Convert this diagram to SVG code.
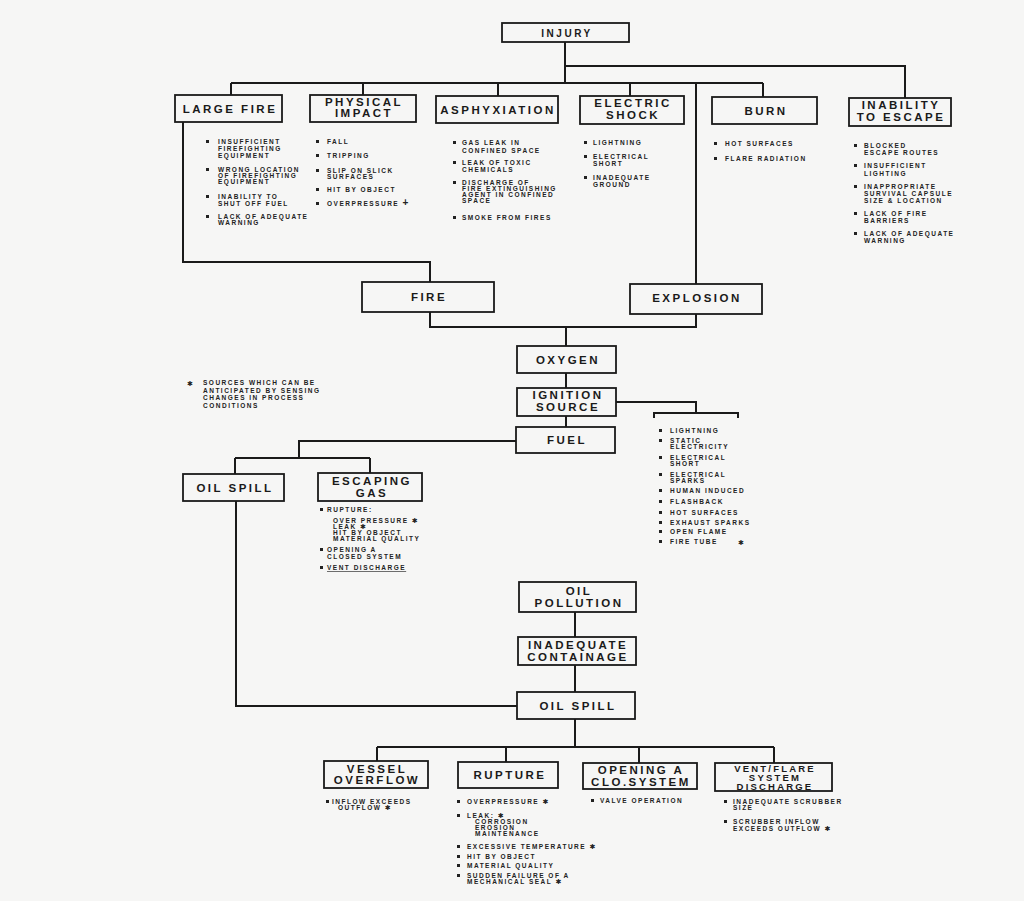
<svg xmlns="http://www.w3.org/2000/svg" width="1024" height="901" viewBox="0 0 1024 901">
<style>
.bg{fill:#f6f6f5}
.box{fill:none;stroke:#1a1a1a;stroke-width:1.8}
.ln{fill:none;stroke:#1a1a1a;stroke-width:2}
.lb{font-family:"Liberation Sans",Arial,sans-serif;font-weight:bold;font-size:11.5px;letter-spacing:2.5px;fill:#1a1a1a;text-anchor:middle}
.v{font-size:9.5px;letter-spacing:2.2px}
.s{font-family:"Liberation Sans",Arial,sans-serif;font-weight:bold;font-size:6.5px;letter-spacing:1.5px;fill:#222}
.m{font-family:"DejaVu Sans",sans-serif;font-size:7px;fill:#222}
.b{fill:#222}
</style>
<rect class="bg" x="0" y="0" width="1024" height="901"/>

<g id="connectors">
<path class="ln" d="M565 42V83M565 66H905V98M231 83H763M231 83V95M363 83V95M498 83V96M630 83V96M763 83V97M696 83V284"/>
<path class="ln" d="M183 122V262H430V282M430 312V327H696V314M566 327V346M566 373V388M566 416V427"/>
<path class="ln" d="M616 402H696V413M654 418V413H738V418"/>
<path class="ln" d="M516 441H299V458M235 458H370M235 458V474M370 458V473M236 501V706H517"/>
<path class="ln" d="M575 612V637M575 665V692M575 719V747M377 747H774M377 747V761M506 747V762M639 747V763M774 747V763"/>
</g>

<g id="injury"><rect class="box" x="502" y="23" width="127" height="19"/><text class="lb" x="567" y="37" style="font-size:10px">INJURY</text></g>

<g id="large-fire"><rect class="box" x="175" y="95" width="107" height="27"/><text class="lb" x="230" y="113">LARGE FIRE</text>
<rect class="b" x="206" y="140" width="3" height="3"/><rect class="b" x="206" y="168" width="3" height="3"/><rect class="b" x="206" y="195" width="3" height="3"/><rect class="b" x="206" y="215" width="3" height="3"/>
<text class="s" x="218" y="144">INSUFFICIENT</text><text class="s" x="218" y="151">FIREFIGHTING</text><text class="s" x="218" y="158">EQUIPMENT</text>
<text class="s" x="218" y="172">WRONG LOCATION</text><text class="s" x="218" y="178">OF FIREFIGHTING</text><text class="s" x="218" y="184">EQUIPMENT</text>
<text class="s" x="218" y="199">INABILITY TO</text><text class="s" x="218" y="206">SHUT OFF FUEL</text>
<text class="s" x="218" y="219">LACK OF ADEQUATE</text><text class="s" x="218" y="225">WARNING</text></g>

<g id="physical-impact"><rect class="box" x="310" y="95" width="106" height="27"/><text class="lb" x="364" y="106">PHYSICAL</text><text class="lb" x="364" y="117">IMPACT</text>
<rect class="b" x="316" y="140" width="3" height="3"/><rect class="b" x="316" y="154" width="3" height="3"/><rect class="b" x="316" y="169" width="3" height="3"/><rect class="b" x="316" y="188" width="3" height="3"/><rect class="b" x="316" y="202" width="3" height="3"/>
<text class="s" x="327" y="144">FALL</text><text class="s" x="327" y="158">TRIPPING</text><text class="s" x="327" y="173">SLIP ON SLICK</text><text class="s" x="327" y="179">SURFACES</text><text class="s" x="327" y="192">HIT BY OBJECT</text><text class="s" x="327" y="206">OVERPRESSURE <tspan style="font-size:10px">+</tspan></text></g>

<g id="asphyxiation"><rect class="box" x="436" y="96" width="122" height="27"/><text class="lb" x="498" y="114">ASPHYXIATION</text>
<rect class="b" x="453" y="141" width="3" height="3"/><rect class="b" x="453" y="161" width="3" height="3"/><rect class="b" x="453" y="181" width="3" height="3"/><rect class="b" x="453" y="216" width="3" height="3"/>
<text class="s" x="462" y="145">GAS LEAK IN</text><text class="s" x="462" y="153">CONFINED SPACE</text><text class="s" x="462" y="165">LEAK OF TOXIC</text><text class="s" x="462" y="172">CHEMICALS</text>
<text class="s" x="462" y="185">DISCHARGE OF</text><text class="s" x="462" y="191">FIRE EXTINGUISHING</text><text class="s" x="462" y="197">AGENT IN CONFINED</text><text class="s" x="462" y="203">SPACE</text><text class="s" x="462" y="220">SMOKE FROM FIRES</text></g>

<g id="electric-shock"><rect class="box" x="580" y="96" width="104" height="28"/><text class="lb" x="633" y="107">ELECTRIC</text><text class="lb" x="633" y="119">SHOCK</text>
<rect class="b" x="584" y="141" width="3" height="3"/><rect class="b" x="584" y="155" width="3" height="3"/><rect class="b" x="584" y="176" width="3" height="3"/>
<text class="s" x="593" y="145">LIGHTNING</text><text class="s" x="593" y="159">ELECTRICAL</text><text class="s" x="593" y="166">SHORT</text><text class="s" x="593" y="180">INADEQUATE</text><text class="s" x="593" y="187">GROUND</text></g>

<g id="burn"><rect class="box" x="712" y="97" width="105" height="27"/><text class="lb" x="766" y="115">BURN</text>
<rect class="b" x="714" y="142" width="3" height="3"/><rect class="b" x="714" y="157" width="3" height="3"/>
<text class="s" x="725" y="146">HOT SURFACES</text><text class="s" x="725" y="161">FLARE RADIATION</text></g>

<g id="inability-to-escape"><rect class="box" x="849" y="98" width="102" height="28"/><text class="lb" x="901" y="109">INABILITY</text><text class="lb" x="901" y="121">TO ESCAPE</text>
<rect class="b" x="854" y="144" width="3" height="3"/><rect class="b" x="854" y="164" width="3" height="3"/><rect class="b" x="854" y="185" width="3" height="3"/><rect class="b" x="854" y="212" width="3" height="3"/><rect class="b" x="854" y="232" width="3" height="3"/>
<text class="s" x="864" y="148">BLOCKED</text><text class="s" x="864" y="155">ESCAPE ROUTES</text><text class="s" x="864" y="168">INSUFFICIENT</text><text class="s" x="864" y="176">LIGHTING</text>
<text class="s" x="864" y="189">INAPPROPRIATE</text><text class="s" x="864" y="196">SURVIVAL CAPSULE</text><text class="s" x="864" y="203">SIZE &amp; LOCATION</text>
<text class="s" x="864" y="216">LACK OF FIRE</text><text class="s" x="864" y="223">BARRIERS</text><text class="s" x="864" y="236">LACK OF ADEQUATE</text><text class="s" x="864" y="243">WARNING</text></g>

<g id="fire"><rect class="box" x="362" y="282" width="132" height="30"/><text class="lb" x="429" y="301">FIRE</text></g>
<g id="explosion"><rect class="box" x="630" y="284" width="132" height="30"/><text class="lb" x="697" y="302">EXPLOSION</text></g>
<g id="oxygen"><rect class="box" x="517" y="346" width="99" height="27"/><text class="lb" x="568" y="364">OXYGEN</text></g>
<g id="ignition-source"><rect class="box" x="517" y="388" width="99" height="28"/><text class="lb" x="568" y="399">IGNITION</text><text class="lb" x="568" y="411">SOURCE</text>
<rect class="b" x="659" y="429" width="3" height="3"/><rect class="b" x="659" y="439" width="3" height="3"/><rect class="b" x="659" y="456" width="3" height="3"/><rect class="b" x="659" y="473" width="3" height="3"/><rect class="b" x="659" y="489" width="3" height="3"/><rect class="b" x="659" y="500" width="3" height="3"/><rect class="b" x="659" y="511" width="3" height="3"/><rect class="b" x="659" y="521" width="3" height="3"/><rect class="b" x="659" y="530" width="3" height="3"/><rect class="b" x="659" y="540" width="3" height="3"/>
<text class="s" x="670" y="433">LIGHTNING</text><text class="s" x="670" y="443">STATIC</text><text class="s" x="670" y="449">ELECTRICITY</text><text class="s" x="670" y="460">ELECTRICAL</text><text class="s" x="670" y="466">SHORT</text>
<text class="s" x="670" y="477">ELECTRICAL</text><text class="s" x="670" y="483">SPARKS</text><text class="s" x="670" y="493">HUMAN INDUCED</text><text class="s" x="670" y="504">FLASHBACK</text><text class="s" x="670" y="515">HOT SURFACES</text>
<text class="s" x="670" y="525">EXHAUST SPARKS</text><text class="s" x="670" y="534">OPEN FLAME</text><text class="s" x="670" y="544">FIRE TUBE</text><text class="m" x="738" y="545">✱</text></g>
<g id="fuel"><rect class="box" x="516" y="427" width="99" height="26"/><text class="lb" x="567" y="444">FUEL</text></g>

<g id="note"><text class="m" x="187" y="386">✱</text>
<text class="s" x="203" y="385">SOURCES WHICH CAN BE</text><text class="s" x="203" y="393">ANTICIPATED BY SENSING</text><text class="s" x="203" y="400">CHANGES IN PROCESS</text><text class="s" x="203" y="408">CONDITIONS</text></g>

<g id="oil-spill-1"><rect class="box" x="183" y="474" width="101" height="27"/><text class="lb" x="235" y="492">OIL SPILL</text></g>
<g id="escaping-gas"><rect class="box" x="318" y="473" width="104" height="28"/><text class="lb" x="372" y="485">ESCAPING</text><text class="lb" x="372" y="497">GAS</text>
<rect class="b" x="320" y="508" width="3" height="3"/><rect class="b" x="320" y="548" width="3" height="3"/><rect class="b" x="320" y="566" width="3" height="3"/>
<text class="s" x="327" y="512">RUPTURE:</text><text class="s" x="333" y="523">OVER PRESSURE <tspan class="m">✱</tspan></text><text class="s" x="333" y="529">LEAK <tspan class="m">✱</tspan></text><text class="s" x="333" y="535">HIT BY OBJECT</text><text class="s" x="333" y="541">MATERIAL QUALITY</text>
<text class="s" x="327" y="552">OPENING A</text><text class="s" x="327" y="559">CLOSED SYSTEM</text><text class="s" x="327" y="570" text-decoration="underline">VENT DISCHARGE</text></g>

<g id="oil-pollution"><rect class="box" x="519" y="582" width="117" height="30"/><text class="lb" x="579" y="595">OIL</text><text class="lb" x="579" y="607">POLLUTION</text></g>
<g id="inadequate-containage"><rect class="box" x="518" y="637" width="118" height="28"/><text class="lb" x="578" y="649">INADEQUATE</text><text class="lb" x="578" y="661">CONTAINAGE</text></g>
<g id="oil-spill-2"><rect class="box" x="517" y="692" width="118" height="27"/><text class="lb" x="578" y="710">OIL SPILL</text></g>

<g id="vessel-overflow"><rect class="box" x="324" y="761" width="104" height="27"/><text class="lb" x="377" y="773">VESSEL</text><text class="lb" x="377" y="784">OVERFLOW</text>
<rect class="b" x="326" y="800" width="3" height="3"/><text class="s" x="332" y="804">INFLOW EXCEEDS</text><text class="s" x="338" y="810">OUTFLOW <tspan class="m">✱</tspan></text></g>

<g id="rupture"><rect class="box" x="458" y="762" width="100" height="26"/><text class="lb" x="510" y="779">RUPTURE</text>
<rect class="b" x="457" y="800" width="3" height="3"/><rect class="b" x="457" y="814" width="3" height="3"/><rect class="b" x="457" y="845" width="3" height="3"/><rect class="b" x="457" y="855" width="3" height="3"/><rect class="b" x="457" y="864" width="3" height="3"/><rect class="b" x="457" y="874" width="3" height="3"/>
<text class="s" x="467" y="804">OVERPRESSURE <tspan class="m">✱</tspan></text><text class="s" x="467" y="818">LEAK: <tspan class="m">✱</tspan></text><text class="s" x="475" y="824">CORROSION</text><text class="s" x="475" y="830">EROSION</text><text class="s" x="475" y="836">MAINTENANCE</text>
<text class="s" x="467" y="849">EXCESSIVE TEMPERATURE <tspan class="m">✱</tspan></text><text class="s" x="467" y="859">HIT BY OBJECT</text><text class="s" x="467" y="868">MATERIAL QUALITY</text><text class="s" x="467" y="878">SUDDEN FAILURE OF A</text><text class="s" x="467" y="884">MECHANICAL SEAL <tspan class="m">✱</tspan></text></g>

<g id="opening-a-clo-system"><rect class="box" x="583" y="763" width="114" height="26"/><text class="lb" x="641" y="774">OPENING A</text><text class="lb" x="641" y="786">CLO.SYSTEM</text>
<rect class="b" x="591" y="799" width="3" height="3"/><text class="s" x="600" y="803">VALVE OPERATION</text></g>

<g id="vent-flare-system-discharge"><rect class="box" x="715" y="763" width="117" height="28"/><text class="lb v" x="775" y="771.5">VENT/FLARE</text><text class="lb v" x="775" y="780.5">SYSTEM</text><text class="lb v" x="775" y="789.5">DISCHARGE</text>
<rect class="b" x="724" y="800" width="3" height="3"/><rect class="b" x="724" y="820" width="3" height="3"/>
<text class="s" x="733" y="804">INADEQUATE SCRUBBER</text><text class="s" x="733" y="810">SIZE</text><text class="s" x="733" y="824">SCRUBBER INFLOW</text><text class="s" x="733" y="831">EXCEEDS OUTFLOW <tspan class="m">✱</tspan></text></g>
</svg>
